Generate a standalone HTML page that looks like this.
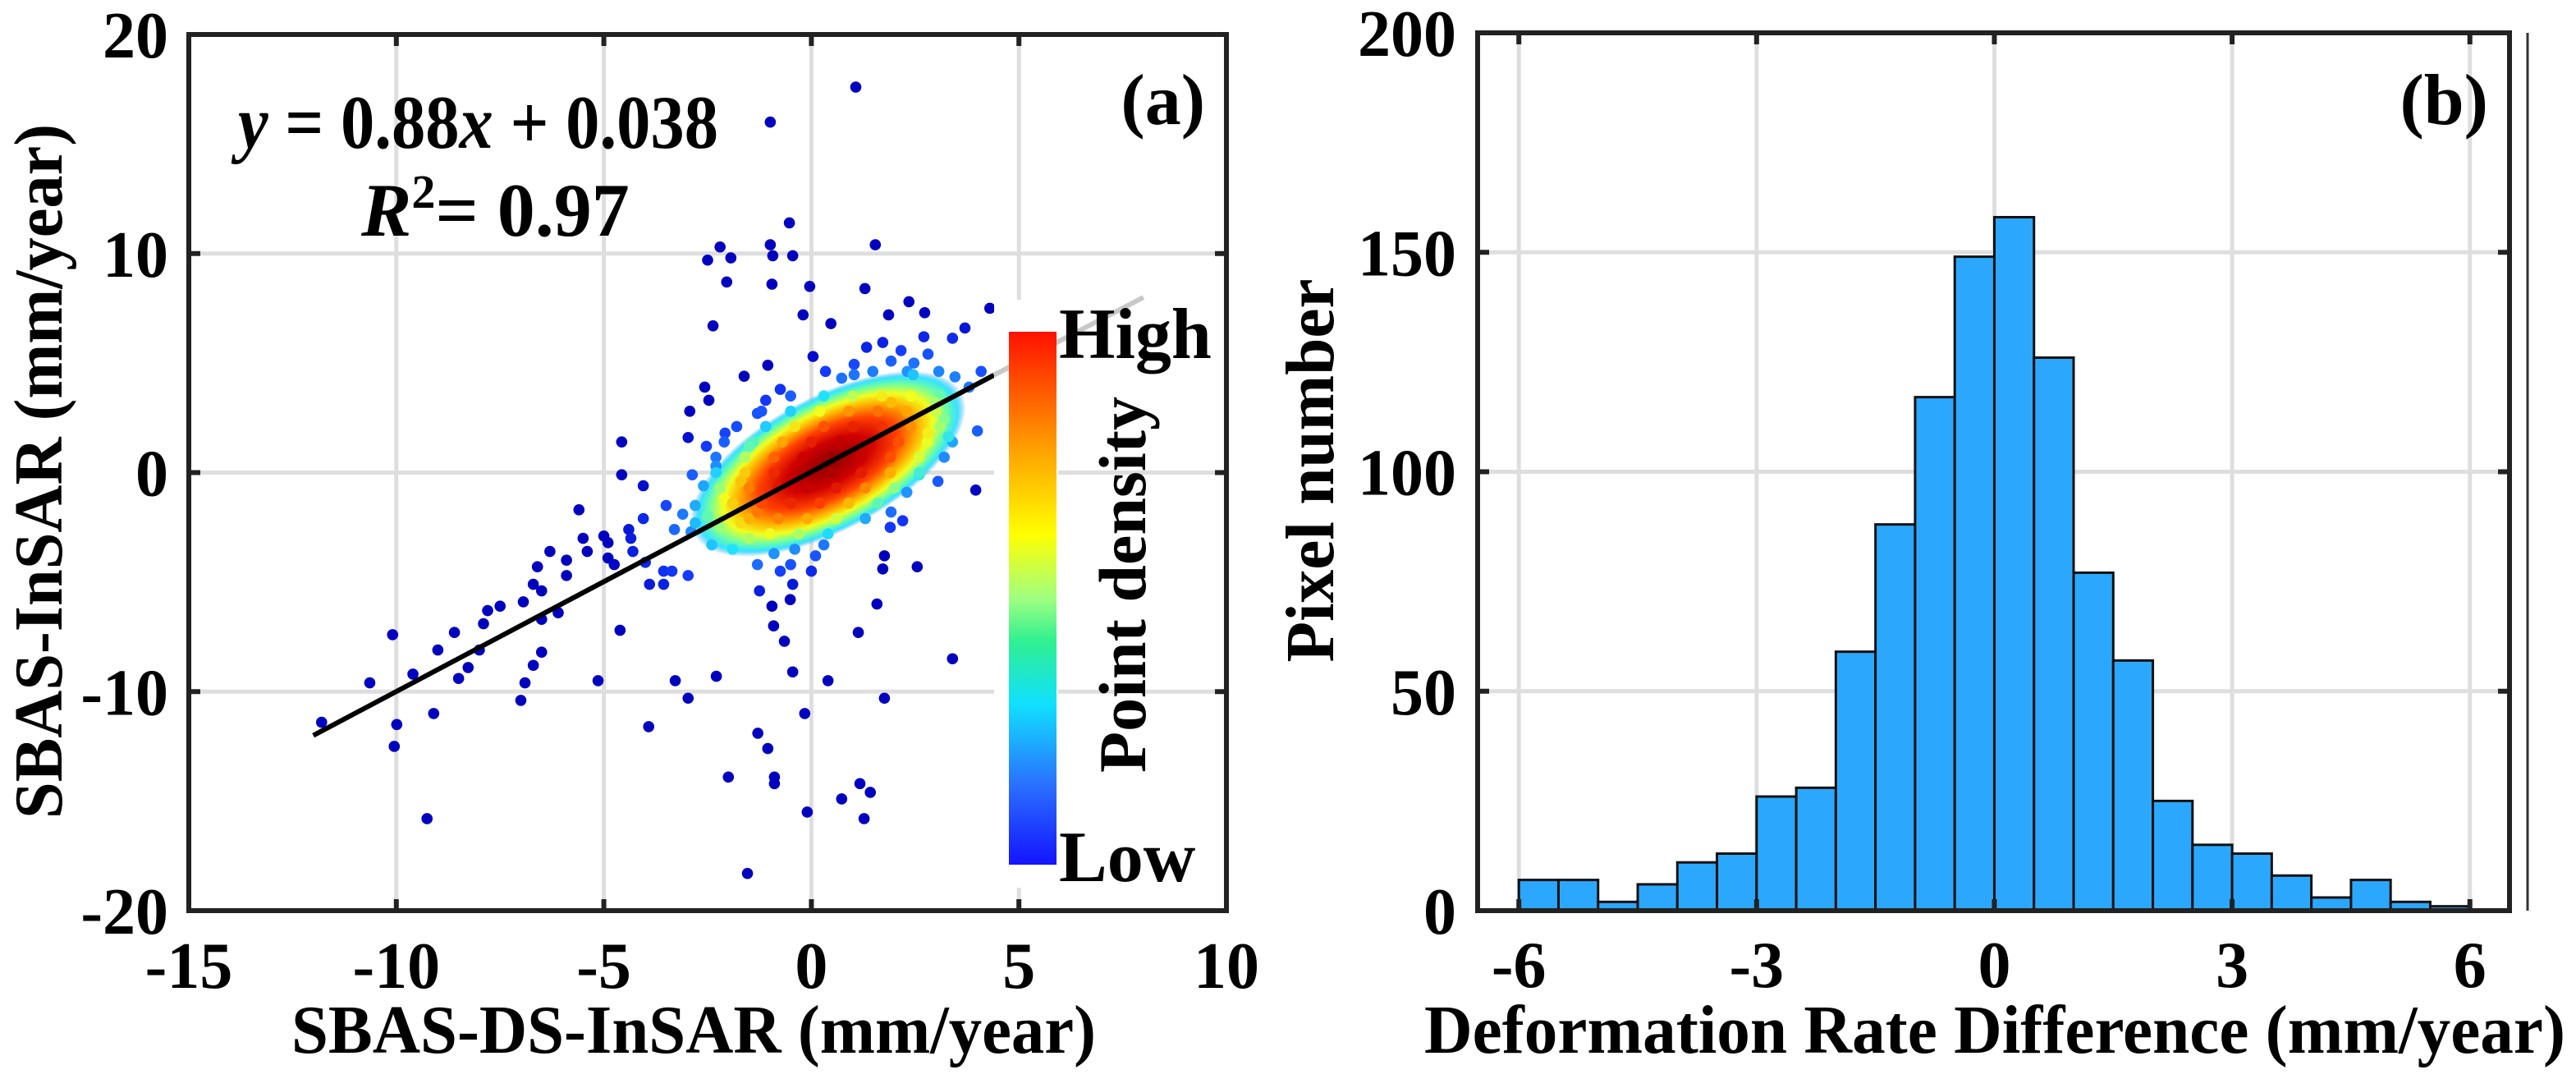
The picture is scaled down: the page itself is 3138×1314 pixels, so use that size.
<!DOCTYPE html>
<html><head><meta charset="utf-8">
<style>
html,body{margin:0;padding:0;background:#fff;}
svg{display:block;}
text{font-family:"Liberation Serif","Times New Roman","DejaVu Serif",serif;font-weight:bold;fill:#000;}
</style></head>
<body>
<svg id="fig" width="3138" height="1314" viewBox="0 0 3138 1314" xmlns="http://www.w3.org/2000/svg">
<defs>
  <linearGradient id="jetbar" x1="0" y1="1" x2="0" y2="0">
    <stop offset="0" stop-color="#1414ff"/>
    <stop offset="0.15" stop-color="#2a70ff"/>
    <stop offset="0.3" stop-color="#10e0ff"/>
    <stop offset="0.42" stop-color="#30f090"/>
    <stop offset="0.5" stop-color="#a0ff80"/>
    <stop offset="0.62" stop-color="#ffff00"/>
    <stop offset="0.78" stop-color="#ffa000"/>
    <stop offset="1" stop-color="#ff1000"/>
  </linearGradient>
  <radialGradient id="halo" cx="0.5" cy="0.5" r="0.5">
    <stop offset="0" stop-color="#8c0000"/>
    <stop offset="0.3" stop-color="#d00000"/>
    <stop offset="0.5" stop-color="#ff4000"/>
    <stop offset="0.65" stop-color="#ffb000"/>
    <stop offset="0.76" stop-color="#f0ff20"/>
    <stop offset="0.86" stop-color="#70ffa0"/>
    <stop offset="0.94" stop-color="#20e0ff" stop-opacity="0.9"/>
    <stop offset="1" stop-color="#20a0ff" stop-opacity="0"/>
  </radialGradient>
</defs>
<g id="panelA"></g>
<g id="panelB"></g>
</svg>
<script>
// ---------- Panel (a) data ----------
const scatterPoints = [
[1.07,17.6],[-0.99,16.0],[-0.53,11.4],[-0.99,10.4],[-0.45,9.9],[-0.93,9.9],[-2.2,10.3],[-2.5,9.7],[-1.94,9.8],[-2.04,8.7],
[-0.95,8.6],[-0.04,8.5],[1.54,10.4],[1.29,8.4],[-0.2,7.2],[0.47,6.8],[-2.37,6.7],[2.35,7.8],[1.86,7.2],[2.73,7.3],
[4.3,7.5],[3.7,6.6],[0.04,5.3],[-1.05,4.9],[-1.62,4.4],[-2.57,3.9],[-2.47,3.3],[-2.93,2.8],[-1.3,2.7],[-1.1,3.3],
[-0.75,3.8],[-2.97,1.6],[-2.53,1.2],[-2.08,1.8],[-4.57,1.4],[-4.57,-0.1],[-5.6,-1.7],[-4.05,-0.6],[4.0,1.9],[3.96,-0.8],
[4.4,-0.5],[1.92,-1.8],[2.2,-2.2],[1.9,-2.5],[1.76,-3.8],[1.72,-4.4],[2.55,-4.3],[1.58,-6.0],[1.13,-7.3],[3.4,-8.5],
[0.4,-9.5],[1.76,-10.3],[-0.16,-11.0],[-0.45,-9.1],[-0.65,-7.7],[-0.91,-7.0],[-0.95,-6.1],[-0.51,-5.8],[-0.45,-5.1],[-1.25,-5.4],
[-1.3,-4.2],[-0.75,-4.5],[0,-4.5],[-1.29,-11.9],[-1.05,-12.6],[-0.89,-13.9],[-0.89,-14.2],[-2.0,-13.9],[-0.1,-15.5],[0.73,-14.9],
[1.17,-14.2],[1.42,-14.6],[1.27,-15.8],[-1.54,-18.3],[-2.29,-9.3],[-2.97,-10.3],[-3.28,-9.5],[-3.92,-11.6],[-5.14,-9.5],[-4.61,-7.2],
[-9.26,-15.8],[-10.05,-12.5],[-9.99,-11.5],[-11.8,-11.4],[-10.64,-9.6],[-9.1,-11.0],[-10.09,-7.4],[-9.6,-9.2],[-9.0,-8.1],[-8.6,-7.3],
[-8.5,-9.4],[-8.27,-8.9],[-8.0,-8.1],[-7.9,-6.9],[-7.8,-6.3],[-7.5,-6.1],[-7.0,-10.4],[-6.9,-9.6],[-6.7,-8.8],[-6.5,-8.2],
[-6.94,-5.9],[-6.7,-5.1],[-6.5,-5.4],[-6.5,-6.7],[-6.1,-6.4],[-6.3,-3.6],[-5.9,-4.0],[-5.9,-4.7],[-6.6,-4.3],[-5.5,-3.0],
[-5.4,-3.6],[-5.0,-2.9],[-4.9,-3.2],[-4.9,-3.9],[-4.75,-4.2],[-4.35,-3.0],[-4.3,-3.6],[-4.4,-2.6],[-4.05,-2.1],[-4.0,-4.1],
[-3.9,-5.1],[-3.56,-5.1],[-3.56,-4.5],[-3.5,-1.5],[-3.36,-4.5],[-2.97,-4.7],[-2.8,-2.3],[-2.87,-0.1],
[1.03,4.47],[1.48,4.62],[1.92,5.09],[2.16,5.57],[2.47,5.0],[2.81,5.41],[3.07,4.62],[3.46,4.37],[3.8,3.9],[2.45,4.47],
[1.72,5.94],[1.33,5.72],[1.03,4.94],[0.34,4.62],[0.73,4.31],[3.4,6.13],[2.71,6.2],[2.31,4.62],[3.1,3.52],[4.09,4.62],
[3.3,1.64],[3.2,2.42],[3.0,3.2],[1.92,3.2],[2.81,1.8],[2.6,-0.1],[3.05,-0.4],[2.3,-0.9],
[-2.8,-1.5],[-2.5,-2],[-2.2,-2.5],[-2.9,-2.7],[-2.4,-3.3],[-1.9,-3.5],[-2.1,-1.2],[-1.7,-2.3],[-1.3,-1.8],[-2.6,-0.6],
[-3.1,-1.9],[-3.3,-2.6],[-1.5,-3.0],[-0.9,-3.7],[-0.4,-3.5],[0.1,-3.8],[-0.5,-4.2],[0.3,-3.3],[-1.7,-0.4],[-2.3,0.3],[-1.5,1.2],
[-0.5,3.5],[0.3,3.5],[1.0,3.5],[1.7,3.5],[2.4,3.5],
[-1.2,2.8],[-0.5,2.8],[0.2,2.8],[0.9,2.8],[1.6,2.8],[2.3,2.8],[3.0,2.8],
[-1.8,2.1],[-1.1,2.1],[-0.4,2.1],[0.3,2.1],[1.0,2.1],[1.7,2.1],[2.4,2.1],[3.1,2.1],
[-2.1,1.4],[-1.4,1.4],[-0.7,1.4],[0,1.4],[0.7,1.4],[1.4,1.4],[2.1,1.4],[2.8,1.4],[3.4,1.4],
[-2.3,0.7],[-1.6,0.7],[-0.9,0.7],[-0.2,0.7],[0.5,0.7],[1.2,0.7],[1.9,0.7],[2.6,0.7],[3.2,0.7],
[-2.3,0],[-1.6,0],[-0.9,0],[-0.2,0],[0.5,0],[1.2,0],[1.9,0],[2.6,0],
[-2.2,-0.7],[-1.5,-0.7],[-0.8,-0.7],[-0.1,-0.7],[0.6,-0.7],[1.3,-0.7],[2.0,-0.7],
[-1.9,-1.4],[-1.2,-1.4],[-0.5,-1.4],[0.2,-1.4],[0.9,-1.4],[1.6,-1.4],
[-1.5,-2.1],[-0.8,-2.1],[-0.1,-2.1],[0.6,-2.1],[1.3,-2.1],
[-1.0,-2.8],[-0.3,-2.8],[0.4,-2.8]
];
const fitStart = [-12, -12];
const fitEnd = [4.4, 4.45];
const fitExtEnd = [8, 8];
const densityCenter = [0.4, 0.4];
const xTicksA = [-15,-10,-5,0,5,10];
const yTicksA = [-20,-10,0,10,20];
const xLimA = [-15,10];
const yLimA = [-20,20];

// ---------- Panel (b) data ----------
const binStart = -6;
const binWidth = 0.5;
const binCounts = [7,7,2,6,11,13,26,28,59,88,117,149,158,126,77,57,25,15,13,8,3,7,2,1];
const xTicksB = [-6,-3,0,3,6];
const yTicksB = [0,50,100,150,200];
const xLimB = [-6.52,6.5];
const yLimB = [0,200];

const NS='http://www.w3.org/2000/svg';
function mk(parent,tag,attrs,txt){const e=document.createElementNS(NS,tag);for(const k in attrs)e.setAttribute(k,attrs[k]);if(txt!==undefined)e.textContent=txt;parent.appendChild(e);return e;}
const haloStops=[[0,[140,0,0]],[0.3,[208,0,0]],[0.5,[255,64,0]],[0.65,[255,176,0]],[0.76,[240,255,32]],[0.86,[112,255,160]],[0.94,[32,224,255]],[1.0,[32,140,255]],[1.25,[20,60,255]],[1.6,[0,0,190]]];
function densColor(d){d=Math.min(d,1.6);for(let i=1;i<haloStops.length;i++){if(d<=haloStops[i][0]){const a=haloStops[i-1],b=haloStops[i];const f=(d-a[0])/(b[0]-a[0]);const c=a[1].map((v,k)=>Math.round(v+(b[1][k]-v)*f));return `rgb(${c[0]},${c[1]},${c[2]})`;}}return 'rgb(0,0,190)';}

// ===== Panel A =====
(function(){
const G=document.getElementById('panelA');
const L=230,R=1494,T=42,B=1109;
const sx=v=>L+(v-xLimA[0])/(xLimA[1]-xLimA[0])*(R-L);
const sy=v=>B-(v-yLimA[0])/(yLimA[1]-yLimA[0])*(B-T);
mk(G,'rect',{x:L,y:T,width:R-L,height:B-T,fill:'#fff'});
xTicksA.forEach(v=>{if(v>xLimA[0]&&v<xLimA[1]){const l=mk(G,'line',{x1:sx(v),x2:sx(v),y1:T,y2:B,stroke:'#dedede','stroke-width':5});

}});
yTicksA.forEach(v=>{if(v>yLimA[0]&&v<yLimA[1]){const l=mk(G,'line',{x1:L,x2:R,y1:sy(v),y2:sy(v),stroke:'#dedede','stroke-width':5});

}});
const cx=sx(densityCenter[0]),cy=sy(densityCenter[1]);
const RX=185,RY=82,ANG=-28*Math.PI/180;
const halo=mk(G,'ellipse',{cx:cx,cy:cy,rx:RX,ry:RY,fill:'url(#halo)',transform:`rotate(-28 ${cx} ${cy})`});


const pts=scatterPoints.map(p=>{const dx=sx(p[0])-cx,dy=sy(p[1])-cy;const u=dx*Math.cos(ANG)+dy*Math.sin(ANG),v=-dx*Math.sin(ANG)+dy*Math.cos(ANG);const d=Math.sqrt((u/RX)**2+(v/RY)**2);return {x:p[0],y:p[1],d:d};});
pts.sort((a,b)=>b.d-a.d);
pts.forEach(p=>{if(sx(p.x)>1208&&sy(p.y)>360&&sy(p.y)<1085)return;const c=mk(G,'circle',{cx:sx(p.x),cy:sy(p.y),r:6.8,fill:densColor(p.d)});

});
const fl=mk(G,'line',{x1:sx(fitStart[0]),y1:sy(fitStart[1]),x2:sx(fitEnd[0]),y2:sy(fitEnd[1]),stroke:'#000','stroke-width':6});


const bd=mk(G,'rect',{x:1211,y:365,width:78,height:716,fill:'#fff'});


const fe=mk(G,'line',{x1:sx(fitEnd[0]),y1:sy(fitEnd[1]),x2:sx(fitExtEnd[0]),y2:sy(fitExtEnd[1]),stroke:'#c8c8c8','stroke-width':6});


const cb=mk(G,'rect',{x:1229,y:404,width:58,height:649,fill:'url(#jetbar)'});


const ax=mk(G,'rect',{x:L,y:T,width:R-L,height:B-T,fill:'none',stroke:'#222','stroke-width':6});


xTicksA.forEach(v=>{mk(G,'line',{x1:sx(v),x2:sx(v),y1:B,y2:B-14,stroke:'#222','stroke-width':6});mk(G,'line',{x1:sx(v),x2:sx(v),y1:T,y2:T+14,stroke:'#222','stroke-width':6});
const t=mk(G,'text',{x:sx(v),y:1203,'font-size':80,'text-anchor':'middle'},String(v));

});
yTicksA.forEach(v=>{mk(G,'line',{x1:L,x2:L+14,y1:sy(v),y2:sy(v),stroke:'#222','stroke-width':6});mk(G,'line',{x1:R,x2:R-14,y1:sy(v),y2:sy(v),stroke:'#222','stroke-width':6});
const t=mk(G,'text',{x:205,y:sy(v)+28,'font-size':80,'text-anchor':'end'},String(v));

});
})();

// ===== Panel B =====
(function(){
const G=document.getElementById('panelB');
const L=1800,R=3057,T=40,B=1109;
const sx=v=>L+(v-xLimB[0])/(xLimB[1]-xLimB[0])*(R-L);
const sy=v=>B-(v-yLimB[0])/(yLimB[1]-yLimB[0])*(B-T);
xTicksB.forEach(v=>{const l=mk(G,'line',{x1:sx(v),x2:sx(v),y1:T,y2:B,stroke:'#dedede','stroke-width':5});

});
yTicksB.forEach(v=>{if(v>yLimB[0]&&v<yLimB[1]){const l=mk(G,'line',{x1:L,x2:R,y1:sy(v),y2:sy(v),stroke:'#dedede','stroke-width':5});

}});
binCounts.forEach((c,i)=>{const x0=binStart+i*binWidth;const r=mk(G,'rect',{x:sx(x0),y:sy(c),width:sx(x0+binWidth)-sx(x0),height:sy(0)-sy(c),fill:'#2ba8fd',stroke:'#111','stroke-width':3});

});
const ax=mk(G,'rect',{x:L,y:T,width:R-L,height:B-T,fill:'none',stroke:'#222','stroke-width':6});


xTicksB.forEach(v=>{mk(G,'line',{x1:sx(v),x2:sx(v),y1:B,y2:B-14,stroke:'#222','stroke-width':6});mk(G,'line',{x1:sx(v),x2:sx(v),y1:T,y2:T+14,stroke:'#222','stroke-width':6});
const t=mk(G,'text',{x:sx(v),y:1202,'font-size':80,'text-anchor':'middle'},String(v));

});
yTicksB.forEach(v=>{mk(G,'line',{x1:L,x2:L+14,y1:sy(v),y2:sy(v),stroke:'#222','stroke-width':6});mk(G,'line',{x1:R,x2:R-14,y1:sy(v),y2:sy(v),stroke:'#222','stroke-width':6});
const t=mk(G,'text',{x:1774,y:sy(v)+28,'font-size':80,'text-anchor':'end'},String(v));

});
const el=mk(G,'line',{x1:3079,x2:3079,y1:T,y2:B,stroke:'#333','stroke-width':3});


})();
</script>
<svg style="position:absolute;left:0;top:0" width="3138" height="1314" viewBox="0 0 3138 1314" xmlns="http://www.w3.org/2000/svg">
<text x="290" y="180" font-size="92" textLength="585" lengthAdjust="spacingAndGlyphs"><tspan font-style="italic">y</tspan> = 0.88<tspan font-style="italic">x</tspan> + 0.038</text>
<text x="440" y="287" font-size="92"><tspan font-style="italic">R</tspan><tspan font-size="58" dy="-34">2</tspan><tspan dy="34">= 0.97</tspan></text>
<text x="1468" y="151" font-size="88" text-anchor="end">(a)</text>
<text x="1290" y="436" font-size="88">High</text>
<text x="1290" y="1073" font-size="88">Low</text>
<text transform="translate(1395,712) rotate(-90)" font-size="82" text-anchor="middle">Point density</text>
<text transform="translate(75,574) rotate(-90)" font-size="84" text-anchor="middle" textLength="846" lengthAdjust="spacingAndGlyphs">SBAS-InSAR (mm/year)</text>
<text x="845" y="1282" font-size="84" text-anchor="middle" textLength="980" lengthAdjust="spacingAndGlyphs">SBAS-DS-InSAR (mm/year)</text>
<text x="3031" y="151" font-size="88" text-anchor="end">(b)</text>
<text transform="translate(1624,573) rotate(-90)" font-size="84" text-anchor="middle" textLength="467" lengthAdjust="spacingAndGlyphs">Pixel number</text>
<text x="2430" y="1282" font-size="84" text-anchor="middle" textLength="1390" lengthAdjust="spacingAndGlyphs">Deformation Rate Difference (mm/year)</text>
</svg>
</body></html>
